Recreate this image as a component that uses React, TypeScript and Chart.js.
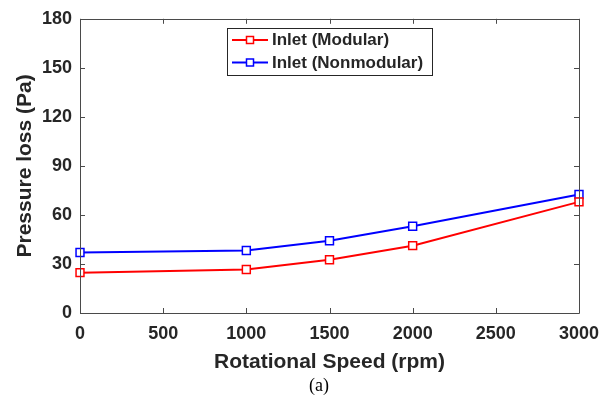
import React, { useEffect, useRef } from "react";
import { Chart, registerables } from "chart.js";

Chart.register(...registerables);

const speeds = [0, 1000, 1500, 2000, 3000];
const modular = [24.7, 26.6, 32.6, 41.2, 68.0];
const nonmodular = [37.0, 38.2, 44.2, 53.1, 72.5];
const seriesLabels = ["Inlet (Modular)", "Inlet (Nonmodular)"];
const seriesColors = ["#ff0000", "#0000ff"];
const xTicks = [0, 500, 1000, 1500, 2000, 2500, 3000];
const yTicks = [0, 30, 60, 90, 120, 150, 180];
const xTitle = "Rotational Speed (rpm)";
const yTitle = "Pressure loss (Pa)";
const caption = "(a)";

const FONT = "'Liberation Sans', Arial, Helvetica, sans-serif";
const TEXT = "#262626";

const framePlugin = {
  id: "frame",
  afterDatasetsDraw(chart: any) {
    const { ctx, chartArea } = chart;
    const { left, right, top, bottom } = chartArea;
    const xs = chart.scales.x;
    const ys = chart.scales.y;
    ctx.save();
    ctx.strokeStyle = "#4a4a4a";
    ctx.lineWidth = 1;
    ctx.beginPath();
    ctx.rect(Math.round(left) + 0.5, Math.round(top) + 0.5, Math.round(right - left), Math.round(bottom - top));
    const tl = 5;
    for (const v of xTicks) {
      const px = Math.round(xs.getPixelForValue(v)) + 0.5;
      ctx.moveTo(px, bottom);
      ctx.lineTo(px, bottom - tl);
      ctx.moveTo(px, top);
      ctx.lineTo(px, top + tl);
    }
    for (const v of yTicks) {
      const py = Math.round(ys.getPixelForValue(v)) + 0.5;
      ctx.moveTo(left, py);
      ctx.lineTo(left + tl, py);
      ctx.moveTo(right, py);
      ctx.lineTo(right - tl, py);
    }
    ctx.stroke();
    ctx.restore();
  },
  afterDraw(chart: any) {
    const { ctx } = chart;
    ctx.save();
    // legend
    const bx = 227.5, by = 28.5, bw = 205, bh = 47;
    ctx.fillStyle = "#ffffff";
    ctx.fillRect(bx, by, bw, bh);
    ctx.strokeStyle = "#262626";
    ctx.lineWidth = 1;
    ctx.strokeRect(bx, by, bw, bh);
    const rows = [40, 62.5];
    chart.data.datasets.forEach((ds: any, i: number) => {
      const y = rows[i];
      ctx.strokeStyle = ds.borderColor;
      ctx.lineWidth = 2;
      ctx.beginPath();
      ctx.moveTo(232, y);
      ctx.lineTo(268, y);
      ctx.stroke();
      ctx.fillStyle = "#ffffff";
      ctx.fillRect(246.5, y - 3.5, 7, 7);
      ctx.lineWidth = 1.5;
      ctx.strokeRect(246.5, y - 3.5, 7, 7);
      ctx.fillStyle = TEXT;
      ctx.font = `bold 17px ${FONT}`;
      ctx.textBaseline = "middle";
      ctx.textAlign = "left";
      ctx.fillText(ds.label, 272, y + 0.5);
    });
    // caption
    ctx.fillStyle = "#000000";
    ctx.font = `18px 'Liberation Serif', 'Times New Roman', serif`;
    ctx.textAlign = "center";
    ctx.textBaseline = "middle";
    ctx.fillText(caption, 319, 386);
    ctx.restore();
  },
};

export default function App() {
  const ref = useRef<HTMLCanvasElement | null>(null);
  useEffect(() => {
    document.body.style.margin = "0";
    const canvas = ref.current!;
    const mk = (vals: number[]) => speeds.map((x, i) => ({ x, y: vals[i] }));
    const chart = new Chart(canvas, {
      type: "line",
      data: {
        datasets: [modular, nonmodular].map((vals, i) => ({
          label: seriesLabels[i],
          data: mk(vals),
          borderColor: seriesColors[i],
          backgroundColor: "#ffffff",
          borderWidth: 2,
          pointStyle: "rect",
          pointRadius: 5.6,
          pointBorderWidth: 1.5,
          pointBackgroundColor: "#ffffff",
          pointBorderColor: seriesColors[i],
          tension: 0,
          fill: false,
          clip: false as any,
        })),
      },
      options: {
        animation: false,
        responsive: false,
        devicePixelRatio: 1,
        layout: { padding: { left: 0, right: 34, top: 15, bottom: 0 } },
        plugins: { legend: { display: false }, tooltip: { enabled: false } },
        scales: {
          x: {
            type: "linear",
            min: 0,
            max: 3000,
            afterBuildTicks: (s: any) => {
              s.ticks = xTicks.map((v) => ({ value: v }));
            },
            afterFit: (s: any) => {
              s.height = 83;
            },
            grid: { display: false, drawTicks: false },
            border: { display: false },
            ticks: {
              color: TEXT,
              font: { family: FONT, size: 18, weight: "bold" },
              padding: 10,
              maxRotation: 0,
              autoSkip: false,
              callback: (v: any) => String(v),
            },
            title: {
              display: true,
              text: xTitle,
              color: TEXT,
              font: { family: FONT, size: 21, weight: "bold" },
              padding: { top: 0, bottom: 21 },
            },
          },
          y: {
            type: "linear",
            min: 0,
            max: 180,
            afterBuildTicks: (s: any) => {
              s.ticks = yTicks.map((v) => ({ value: v }));
            },
            afterFit: (s: any) => {
              s.width = 80;
            },
            grid: { display: false, drawTicks: false },
            border: { display: false },
            ticks: {
              color: TEXT,
              font: { family: FONT, size: 18, weight: "bold" },
              padding: 8,
              autoSkip: false,
              callback: (v: any) => String(v),
            },
            title: {
              display: true,
              text: yTitle,
              color: TEXT,
              font: { family: FONT, size: 21, weight: "bold" },
              padding: { top: 13, bottom: 0 },
            },
          },
        },
      },
      plugins: [framePlugin],
    });
    return () => chart.destroy();
  }, []);
  return (
    <div style={{ position: "absolute", left: 0, top: 0, width: 613, height: 396, background: "#fff" }}>
      <canvas ref={ref} width={613} height={396} style={{ width: 613, height: 396 }} />
    </div>
  );
}
